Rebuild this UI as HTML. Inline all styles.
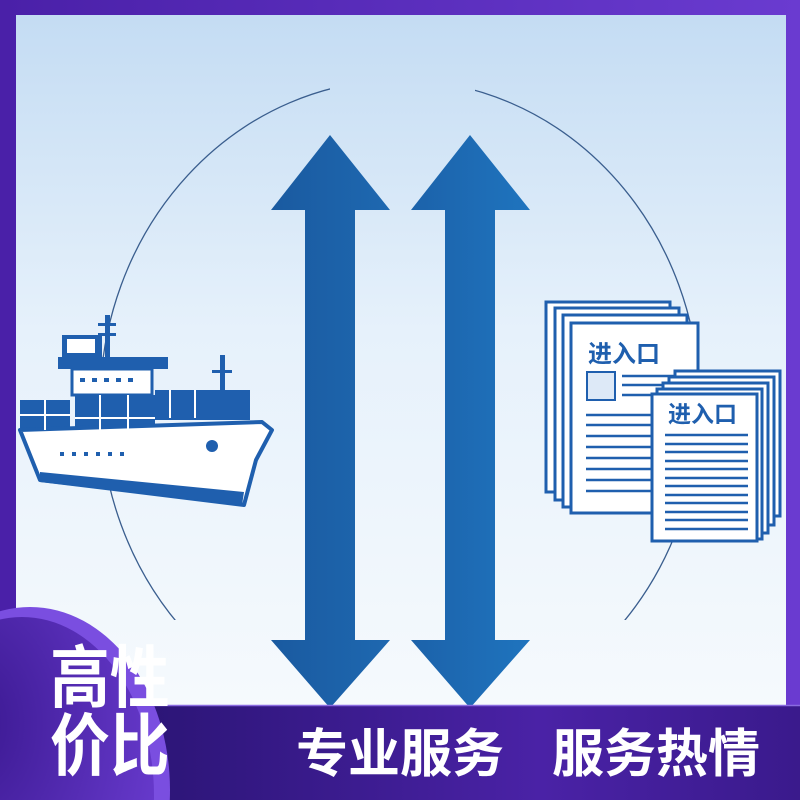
<!DOCTYPE html>
<html><head><meta charset="utf-8"><style>
html,body{margin:0;padding:0;width:800px;height:800px;overflow:hidden}
svg{display:block}
</style></head><body>
<svg width="800" height="800" viewBox="0 0 800 800" xmlns="http://www.w3.org/2000/svg" font-family="'Liberation Sans','Noto Sans CJK SC',sans-serif">
<defs>
<linearGradient id="bg" x1="0" y1="0" x2="0" y2="1">
<stop offset="0" stop-color="#c4dcf3"/><stop offset="0.45" stop-color="#e6f1fb"/><stop offset="1" stop-color="#f6fafd"/>
</linearGradient>
<linearGradient id="pur" x1="0" y1="0" x2="1" y2="0">
<stop offset="0" stop-color="#4a20a8"/><stop offset="1" stop-color="#6a3bd0"/>
</linearGradient>
<linearGradient id="bar" x1="0" y1="0" x2="1" y2="0">
<stop offset="0" stop-color="#2c1577"/><stop offset="0.6" stop-color="#4a22a6"/><stop offset="1" stop-color="#3a1a8c"/>
</linearGradient>
<radialGradient id="circ" cx="0.3" cy="0.3" r="0.8">
<stop offset="0" stop-color="#3a1890"/><stop offset="1" stop-color="#6a3cd0"/>
</radialGradient>
<linearGradient id="a1" x1="0" y1="0" x2="1" y2="0"><stop offset="0" stop-color="#1a5aa0"/><stop offset="1" stop-color="#1e68b0"/></linearGradient>
<linearGradient id="a2" x1="0" y1="0" x2="1" y2="0"><stop offset="0" stop-color="#1c62aa"/><stop offset="1" stop-color="#1f74be"/></linearGradient>
<mask id="m"><rect width="800" height="800" fill="#fff"/><rect x="330" y="0" width="145" height="140" fill="#000"/><rect x="125" y="620" width="550" height="120" fill="#000"/></mask>
</defs>
<rect width="800" height="800" fill="url(#pur)"/>
<rect x="16" y="15" width="770" height="700" fill="url(#bg)"/>
<ellipse cx="400" cy="405" rx="300" ry="325" fill="none" stroke="#3a5e8e" stroke-width="1.3" mask="url(#m)"/>
<!-- arrows -->
<polygon points="330,135 390,210 355,210 355,640 390,640 330,708 271,640 305,640 305,210 271,210" fill="url(#a1)"/>
<polygon points="470,135 530,210 495,210 495,640 530,640 470,708 411,640 445,640 445,210 411,210" fill="url(#a2)"/>
<!-- ship -->
<g fill="#1f5fae">
<rect x="62" y="335" width="40" height="22"/>
<rect x="105" y="315" width="5" height="42"/>
<rect x="98" y="323" width="18" height="3"/><rect x="98" y="333" width="18" height="3"/>
<rect x="58" y="357" width="110" height="12"/>
<rect x="20" y="400" width="50" height="30"/>
<rect x="75" y="395" width="80" height="50"/>
<rect x="155" y="390" width="95" height="30"/>
<rect x="220" y="355" width="5" height="60"/><rect x="212" y="370" width="20" height="3"/>
</g>
<rect x="67" y="339" width="28" height="14" fill="#fff"/>
<rect x="72" y="369" width="80" height="26" fill="#fff" stroke="#1f5fae" stroke-width="3"/>
<g fill="#1f5fae"><rect x="80" y="378" width="5" height="4"/><rect x="92" y="378" width="5" height="4"/><rect x="104" y="378" width="5" height="4"/><rect x="116" y="378" width="5" height="4"/><rect x="128" y="378" width="5" height="4"/></g>
<path d="M20,430 L262,422 L272,430 L256,460 L244,505 L40,480 Z" fill="#fff" stroke="#1f5fae" stroke-width="4" stroke-linejoin="round"/>
<path d="M40,472 L244,492 L242,505 L40,482Z" fill="#1f5fae"/>
<g fill="#1f5fae"><rect x="60" y="452" width="4" height="4"/><rect x="72" y="452" width="4" height="4"/><rect x="84" y="452" width="4" height="4"/><rect x="96" y="452" width="4" height="4"/><rect x="108" y="452" width="4" height="4"/><rect x="120" y="452" width="4" height="4"/></g>
<circle cx="212" cy="446" r="6" fill="#1f5fae"/>
<g stroke="#fff" stroke-width="2">
<line x1="20" y1="415" x2="70" y2="415"/><line x1="45" y1="400" x2="45" y2="430"/>
<line x1="75" y1="418" x2="155" y2="418"/><line x1="100" y1="395" x2="100" y2="445"/><line x1="128" y1="395" x2="128" y2="445"/>
<line x1="170" y1="390" x2="170" y2="418"/><line x1="195" y1="390" x2="195" y2="418"/>
</g>
<!-- documents -->
<g fill="#fff" stroke="#1f5fae" stroke-width="3">
<rect x="546" y="302" width="124" height="190"/>
<rect x="555" y="308" width="124" height="192"/>
<rect x="563" y="315" width="124" height="192"/>
<rect x="571" y="323" width="127" height="190"/>
</g>
<text x="588" y="362" font-size="24" font-weight="bold" fill="#1f5fae">进入口</text>
<rect x="587" y="372" width="28" height="28" fill="#dde9f7" stroke="#1f5fae" stroke-width="2"/>
<g stroke="#1f5fae" stroke-width="2.5">
<line x1="622" y1="376" x2="690" y2="376"/><line x1="622" y1="385" x2="690" y2="385"/><line x1="622" y1="395" x2="690" y2="395"/>
<line x1="586" y1="415" x2="690" y2="415"/><line x1="586" y1="425" x2="690" y2="425"/><line x1="586" y1="436" x2="690" y2="436"/><line x1="586" y1="447" x2="690" y2="447"/><line x1="586" y1="458" x2="690" y2="458"/><line x1="586" y1="469" x2="690" y2="469"/><line x1="586" y1="480" x2="690" y2="480"/><line x1="586" y1="491" x2="690" y2="491"/>
</g>
<g fill="#fff" stroke="#1f5fae" stroke-width="3">
<rect x="675" y="371" width="105" height="145"/>
<rect x="669" y="377" width="105" height="148"/>
<rect x="663" y="383" width="105" height="150"/>
<rect x="657" y="389" width="105" height="150"/>
<rect x="652" y="394" width="105" height="147"/>
</g>
<text x="668" y="422" font-size="23" font-weight="bold" fill="#1f5fae">进入口</text>
<g stroke="#1f5fae" stroke-width="2.5">
<line x1="665" y1="435" x2="748" y2="435"/><line x1="665" y1="444" x2="748" y2="444"/><line x1="665" y1="452" x2="748" y2="452"/><line x1="665" y1="461" x2="748" y2="461"/><line x1="665" y1="469" x2="748" y2="469"/><line x1="665" y1="478" x2="748" y2="478"/><line x1="665" y1="486" x2="748" y2="486"/><line x1="665" y1="495" x2="748" y2="495"/><line x1="665" y1="503" x2="748" y2="503"/><line x1="665" y1="512" x2="748" y2="512"/><line x1="665" y1="520" x2="748" y2="520"/><line x1="665" y1="529" x2="748" y2="529"/>
</g>
<!-- bottom bar -->
<rect x="150" y="705" width="650" height="95" fill="url(#bar)"/>
<line x1="150" y1="705.5" x2="800" y2="705.5" stroke="#8a6be0" stroke-width="1.5"/>
<text x="296" y="772" font-size="52" font-weight="bold" fill="#fff">专业服务</text>
<text x="552" y="772" font-size="52" font-weight="bold" fill="#fff">服务热情</text>
<!-- circle -->
<ellipse cx="30" cy="790" rx="140" ry="183" fill="#7a4ee0"/>
<ellipse cx="22" cy="795" rx="132" ry="178" fill="url(#circ)"/>
<g transform="translate(50,0) scale(0.88,1)">
<text x="0" y="702" font-size="68" font-weight="bold" fill="#fff">高性</text>
<text x="0" y="770" font-size="68" font-weight="bold" fill="#fff">价比</text>
</g>
</svg>
</body></html>
